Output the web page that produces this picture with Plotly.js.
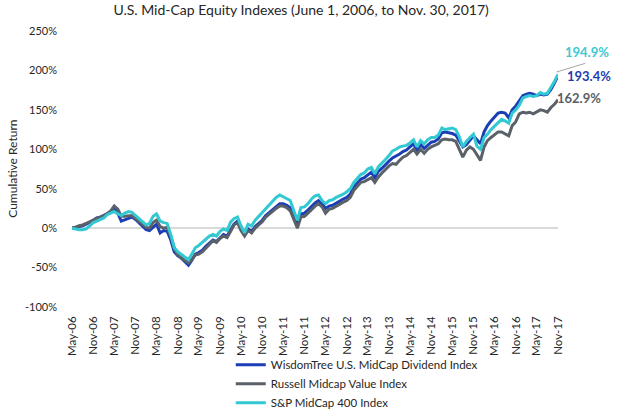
<!DOCTYPE html>
<html>
<head>
<meta charset="utf-8">
<script src="https://cdn.plot.ly/plotly-3.0.1.min.js"></script>
<style>html,body{margin:0;padding:0;background:#fff;}#chart{width:617px;height:411px;}</style>
</head>
<body>
<div id="chart"></div>
<script>
const months = [
 "2006-05","2006-06","2006-07","2006-08","2006-09","2006-10","2006-11","2006-12",
 "2007-01","2007-02","2007-03","2007-04","2007-05","2007-06","2007-07","2007-08","2007-09","2007-10","2007-11","2007-12",
 "2008-01","2008-02","2008-03","2008-04","2008-05","2008-06","2008-07","2008-08","2008-09","2008-10","2008-11","2008-12",
 "2009-01","2009-02","2009-03","2009-04","2009-05","2009-06","2009-07","2009-08","2009-09","2009-10","2009-11","2009-12",
 "2010-01","2010-02","2010-03","2010-04","2010-05","2010-06","2010-07","2010-08","2010-09","2010-10","2010-11","2010-12",
 "2011-01","2011-02","2011-03","2011-04","2011-05","2011-06","2011-07","2011-08","2011-09","2011-10","2011-11","2011-12",
 "2012-01","2012-02","2012-03","2012-04","2012-05","2012-06","2012-07","2012-08","2012-09","2012-10","2012-11","2012-12",
 "2013-01","2013-02","2013-03","2013-04","2013-05","2013-06","2013-07","2013-08","2013-09","2013-10","2013-11","2013-12",
 "2014-01","2014-02","2014-03","2014-04","2014-05","2014-06","2014-07","2014-08","2014-09","2014-10","2014-11","2014-12",
 "2015-01","2015-02","2015-03","2015-04","2015-05","2015-06","2015-07","2015-08","2015-09","2015-10","2015-11","2015-12",
 "2016-01","2016-02","2016-03","2016-04","2016-05","2016-06","2016-07","2016-08","2016-09","2016-10","2016-11","2016-12",
 "2017-01","2017-02","2017-03","2017-04","2017-05","2017-06","2017-07","2017-08","2017-09","2017-10","2017-11"
];

const wisdomTree = [
 0,1,2,3,5,7,10,13,
 14,16,18,21,25,19,9,11,12,14,11,7,
 3,-2,-3,1,5,-6,-3,-4,-15,-30,-35,-38,
 -42,-47,-41,-33,-31,-28,-23,-19,-15,-17,-12,-8,
 -10,-2,5,9,-1,-9,-1,-4,2,6,10,16,
 20,24,28,31,31,29,26,15,5,18,19,23,
 28,32,35,31,25,28,29,32,34,37,39,43,
 52,58,62,64,68,71,64,72,76,81,85,89,
 91,94,97,99,103,107,99,106,101,105,109,110,
 113,121,122,121,120,118,111,103,106,112,117,112,
 107,122,130,136,141,146,147,146,140,150,155,162,
 168,170,171,170,168,170,169,170,176,184,193.4
];

const russellValue = [
 0,1,3,4,6,8,11,13,
 15,17,18,22,28,24,15,15,16,16,12,8,
 4,1,0,7,10,2,0,1,-10,-25,-34,-38,
 -41,-44,-40,-34,-33,-30,-25,-20,-16,-18,-13,-10,
 -12,-4,4,7,-3,-10,-3,-6,0,4,8,14,
 18,22,25,28,28,26,22,11,0,14,15,19,
 24,28,31,27,19,24,25,28,30,33,35,39,
 48,53,58,59,62,64,58,65,70,75,79,82,
 81,86,90,92,96,100,94,100,95,100,103,105,
 107,112,113,112,112,110,100,90,99,103,100,93,
 86,103,111,115,119,122,122,120,117,130,135,145,
 147,146,147,145,147,150,149,147,153,157,162.9
];

const spMidCap400 = [
 0,-1,-2,-2,-1,3,7,9,
 11,13,17,19,21,18,16,19,21,20,16,13,
 9,4,6,15,18,9,7,6,-8,-25,-30,-33,
 -37,-40,-33,-25,-22,-18,-15,-10,-8,-10,-4,-1,
 -3,8,12,14,3,-6,5,3,10,15,20,25,
 30,35,39,42,40,37,35,22,10,26,27,31,
 37,41,42,35,31,35,36,39,41,43,46,50,
 58,64,68,70,75,77,69,78,82,87,92,98,
 100,103,104,105,108,112,103,111,107,112,115,115,
 118,127,125,126,127,125,116,103,110,115,119,104,
 100,115,119,125,129,134,138,136,133,146,150,156,
 165,167,168,167,168,172,170,171,178,186,194.9
];

const yTickVals = [-100, -50, 0, 50, 100, 150, 200, 250];
const yTickText = yTickVals.map(v => v + "%");
const yAxisTitle = "Cumulative Return";

const seriesNames = ["WisdomTree U.S. MidCap Dividend Index","Russell Midcap Value Index","S&P MidCap 400 Index"];
const seriesColors = ["#1B3DB5","#5A6168","#33C9D3"];
const labelColors = ["#1F3DB0","#5A6066","#3CC9D1"];
const seriesData = [wisdomTree, russellValue, spMidCap400];

const font = "Lato, 'Liberation Sans', sans-serif";

const traces = seriesData.map((d, i) => ({
  type: "scatter", mode: "lines",
  x: months, y: d, name: seriesNames[i],
  line: {color: seriesColors[i], width: 3},
  hoverinfo: "skip"
}));

const last = a => a[a.length - 1];
const labelPos = [
  {x: 1.014, y: 193},
  {x: 0.994, y: 165},
  {x: 1.010, y: 224}
];
const annotations = seriesData.map((d, i) => ({
  xref: "paper", yref: "y", x: labelPos[i].x, y: labelPos[i].y,
  xanchor: "left", yanchor: "middle", showarrow: false,
  text: "<b>" + last(d).toFixed(1) + "%</b>",
  font: {family: font, size: 13, color: labelColors[i]}
}));
annotations.push({
  xref: "paper", yref: "paper", x: -0.124, y: 0.5,
  xanchor: "center", yanchor: "middle", textangle: -90, showarrow: false,
  text: yAxisTitle,
  font: {family: font, size: 12, color: "#262626"}
});

const layout = {
  width: 617, height: 411,
  paper_bgcolor: "#fff", plot_bgcolor: "#fff",
  margin: {l: 72, r: 59, t: 31, b: 104, autoexpand: false},
  font: {family: font, size: 11, color: "#262626"},
  title: {
    text: "U.S. Mid-Cap Equity Indexes (June 1, 2006, to Nov. 30, 2017)",
    font: {family: font, size: 14, color: "#262626"},
    xref: "container", yref: "container", x: 0.488, y: 0.976,
    xanchor: "center", yanchor: "middle"
  },
  xaxis: {
    type: "date", automargin: false,
    range: ["2006-05-01", "2017-11-01"],
    tick0: "2006-05-01", dtick: "M6", tickformat: "%b-%y",
    tickangle: -90, showgrid: false, zeroline: false, showline: false,
    ticks: "", ticklabelstandoff: 6,
    tickfont: {family: font, size: 11.5, color: "#262626"}
  },
  yaxis: {
    automargin: false,
    range: [-100, 250], tickmode: "array", tickvals: yTickVals, ticktext: yTickText,
    showgrid: false, zeroline: true, zerolinecolor: "#d9d9d9", zerolinewidth: 1.5,
    showline: false, ticks: "", ticklabelstandoff: 14,
    tickfont: {family: font, size: 11, color: "#262626"}
  },
  showlegend: true,
  legend: {
    xref: "container", yref: "container",
    x: 0.374, y: 0.148, xanchor: "left", yanchor: "top",
    orientation: "v", bgcolor: "rgba(0,0,0,0)",
    font: {family: font, size: 11.5, color: "#262626"},
    tracegroupgap: 0
  },
  annotations: annotations,
  shapes: [{
    type: "line", xref: "paper", yref: "y",
    x0: 0.997, y0: 198, x1: 1.056, y1: 209,
    line: {color: "#A6A6A6", width: 1}
  }]
};

Plotly.newPlot("chart", traces, layout, {displayModeBar: false, staticPlot: true});
</script>
</body>
</html>
